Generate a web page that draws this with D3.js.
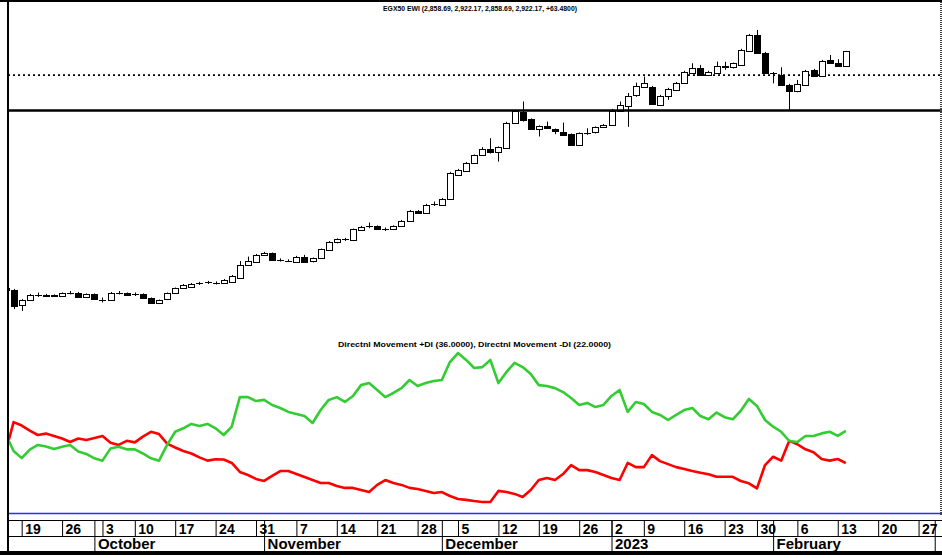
<!DOCTYPE html>
<html>
<head>
<meta charset="utf-8">
<script src="https://cdn.jsdelivr.net/npm/d3@7"></script>
<style>
  body { margin: 0; background: #fff; }
  svg { display: block; font-family: Arial, "Liberation Sans", sans-serif; }
</style>
</head>
<body>
<div class="graph"></div>
<script>
const width = 942;
const height = 558;

// EGX trading calendar (Sun-Thu), first day is only partly visible
const firstDay = new Date(2022, 8, 15);
const lastDay = new Date(2023, 2, 10);
const holidays = ['2022-10-06', '2023-01-01', '2023-01-08', '2023-01-26'];

const open = [1920, 1911, 1847, 1868, 1888, 1885, 1888, 1885, 1898, 1899, 1882, 1894, 1868, 1868, 1898, 1897, 1892, 1894, 1877, 1854,
  1871, 1897, 1918, 1925, 1938, 1943, 1940, 1939, 1946, 1964, 2017, 2031, 2059, 2066, 2038, 2033, 2031, 2052, 2031, 2045,
  2083, 2111, 2124, 2122, 2168, 2180, 2182, 2168, 2170, 2182, 2204, 2245, 2238, 2273, 2270, 2296, 2397, 2416, 2449, 2482,
  2506, 2492, 2515, 2619, 2665, 2633, 2591, 2605, 2591, 2581, 2570, 2524, 2575, 2576, 2599, 2609, 2670, 2689, 2732, 2771,
  2771, 2694, 2732, 2757, 2788, 2828, 2849, 2821, 2830, 2853, 2852, 2863, 2923, 2990, 2915, 2828, 2821, 2778, 2750, 2778,
  2842, 2816, 2884, 2873, 2858.69];
const high = [1924, 1915, 1872, 1894, 1900, 1894, 1892, 1900, 1906, 1902, 1896, 1896, 1879, 1902, 1906, 1900, 1900, 1896, 1879, 1870,
  1900, 1921, 1936, 1940, 1945, 1949, 1947, 1957, 1974, 2033, 2052, 2063, 2072, 2069, 2044, 2040, 2055, 2059, 2048, 2086,
  2118, 2129, 2131, 2171, 2182, 2196, 2184, 2175, 2184, 2207, 2249, 2249, 2275, 2285, 2300, 2410, 2423, 2452, 2484, 2515,
  2553, 2518, 2622, 2673, 2708, 2637, 2607, 2623, 2594, 2619, 2573, 2577, 2595, 2603, 2613, 2677, 2708, 2744, 2788, 2814,
  2774, 2736, 2766, 2791, 2838, 2870, 2863, 2838, 2877, 2876, 2873, 2931, 2994, 3011, 2918, 2833, 2853, 2783, 2799, 2842,
  2846, 2884, 2905, 2887, 2922.17];
const low = [1908, 1830, 1822, 1864, 1881, 1881, 1881, 1881, 1892, 1879, 1879, 1870, 1858, 1864, 1892, 1885, 1885, 1873, 1854, 1851,
  1868, 1894, 1915, 1921, 1932, 1936, 1934, 1936, 1943, 1961, 2012, 2027, 2055, 2033, 2031, 2029, 2027, 2025, 2027, 2042,
  2080, 2108, 2118, 2120, 2165, 2172, 2165, 2160, 2167, 2177, 2201, 2232, 2234, 2266, 2266, 2292, 2393, 2412, 2446, 2478,
  2488, 2454, 2512, 2615, 2623, 2588, 2560, 2592, 2570, 2565, 2522, 2522, 2567, 2573, 2596, 2605, 2664, 2601, 2728, 2768,
  2698, 2690, 2715, 2753, 2785, 2825, 2816, 2816, 2827, 2842, 2848, 2859, 2920, 2909, 2827, 2785, 2774, 2673, 2747, 2774,
  2812, 2812, 2869, 2855, 2858.69];
const close = [1911, 1843, 1868, 1890, 1890, 1888, 1885, 1897, 1899, 1882, 1894, 1874, 1870, 1899, 1899, 1888, 1893, 1877, 1857, 1868,
  1897, 1918, 1932, 1936, 1939, 1944, 1941, 1953, 1970, 2017, 2033, 2059, 2069, 2038, 2037, 2034, 2052, 2031, 2045, 2083,
  2115, 2125, 2125, 2168, 2179, 2182, 2168, 2169, 2182, 2204, 2245, 2235, 2270, 2275, 2296, 2405, 2419, 2449, 2481, 2506,
  2492, 2515, 2619, 2670, 2633, 2591, 2605, 2595, 2581, 2567, 2524, 2574, 2576, 2599, 2609, 2670, 2694, 2732, 2772, 2788,
  2701, 2732, 2760, 2788, 2835, 2849, 2821, 2835, 2859, 2859, 2870, 2926, 2990, 2912, 2830, 2829, 2778, 2754, 2781, 2839,
  2816, 2881, 2873, 2858.69, 2922.17];

const plusDI = [34.6, 27.3, 24.2, 27.9, 29.9, 29.2, 28.1, 29.1, 29.9, 27.1, 26.0, 24.1, 23.1, 28.4, 29.1, 28.0, 28.0, 26.2, 24.1, 23.1,
  29.9, 35.6, 37.1, 39.0, 38.1, 39.0, 37.1, 34.2, 37.8, 50.6, 50.6, 48.9, 49.4, 47.2, 45.9, 44.2, 43.3, 42.4, 39.4, 45.0,
  49.4, 50.6, 48.5, 51.1, 55.8, 56.7, 53.7, 50.6, 52.4, 54.5, 58.0, 55.4, 56.7, 57.6, 58.0, 65.8, 69.7, 66.7, 63.2, 63.6,
  66.7, 56.7, 61.5, 65.4, 63.6, 60.6, 55.8, 55.4, 54.5, 52.8, 50.2, 47.2, 48.1, 46.3, 47.2, 51.1, 53.7, 44.2, 48.5, 47.6,
  44.2, 42.9, 40.7, 42.9, 45.0, 45.9, 42.4, 41.0, 43.9, 41.9, 41.0, 44.7, 49.8, 46.8, 40.7, 37.8, 35.6, 31.6, 31.2, 33.8,
  33.8, 34.9, 35.6, 33.8, 36.0];
const minusDI = [26.8, 39.8, 38.3, 36.1, 34.2, 34.8, 33.8, 32.7, 31.2, 32.7, 32.0, 32.9, 33.8, 30.9, 29.9, 31.7, 31.0, 33.5, 35.6, 34.6,
  30.5, 28.8, 27.3, 26.2, 24.5, 23.1, 23.7, 23.6, 22.1, 18.2, 16.9, 15.2, 14.3, 16.5, 18.6, 18.6, 17.3, 16.0, 14.7, 13.4,
  13.4, 12.1, 11.3, 11.3, 10.4, 9.5, 12.6, 14.7, 13.4, 12.6, 11.3, 10.8, 10.0, 9.1, 9.5, 7.8, 6.5, 6.1, 5.6, 5.2,
  5.2, 10.0, 9.5, 8.7, 7.4, 10.4, 14.7, 15.6, 14.7, 17.3, 21.2, 19.0, 19.0, 18.2, 16.9, 15.6, 14.7, 22.1, 20.3, 20.3,
  25.5, 22.9, 21.6, 20.3, 19.5, 18.6, 17.9, 17.2, 16.1, 16.1, 16.1, 14.3, 13.3, 11.1, 21.2, 24.8, 23.1, 31.7, 30.2, 28.0,
  26.7, 23.8, 23.1, 23.8, 22.0];

// horizontal levels drawn on the price panel
const dottedLevel = 2820;
const solidLevel = 2670;

const iso = d3.timeFormat('%Y-%m-%d');
const dates = d3.timeDay.range(firstDay, lastDay)
  .filter(d => d.getDay() <= 4 && !holidays.includes(iso(d)));

const svg = d3.select('.graph').append('svg')
  .attr('width', width)
  .attr('height', height);

const left = 8, right = 940;

const x = d3.scaleLinear().domain([0, 116]).range([5.52, 942.8]);
const yPrice = d3.scaleLinear().domain([1740, 3125]).range([330.3, 3]);
const yDI = d3.scaleLinear().domain([0, 72]).range([514, 347.7]);

svg.append('clipPath').attr('id', 'plot')
  .append('rect').attr('x', left + 1).attr('y', 0).attr('width', right - left - 1).attr('height', 516);

const fmt = d3.format(',.2f');
const n = close.length - 1;

// titles
svg.append('text')
  .attr('x', 383).attr('y', 10.5)
  .attr('textLength', 194).attr('lengthAdjust', 'spacingAndGlyphs')
  .style('font', 'bold 6.6px Arial, "Liberation Sans", sans-serif')
  .text(`EGX50 EWI (${fmt(open[n])}, ${fmt(high[n])}, ${fmt(low[n])}, ${fmt(close[n])}, +${(close[n] - close[n - 1]).toFixed(4)})`);

svg.append('text')
  .attr('x', 338).attr('y', 347)
  .attr('textLength', 273).attr('lengthAdjust', 'spacingAndGlyphs')
  .style('font', 'bold 7.4px Arial, "Liberation Sans", sans-serif')
  .text(`Directnl Movement +DI (${plusDI[n].toFixed(4)}), Directnl Movement -DI (${minusDI[n].toFixed(4)})`);

const plot = svg.append('g').attr('clip-path', 'url(#plot)');

// level lines
plot.append('line')
  .attr('x1', left).attr('x2', width)
  .attr('y1', yPrice(dottedLevel)).attr('y2', yPrice(dottedLevel))
  .attr('stroke', '#000').attr('stroke-width', 1.6)
  .attr('stroke-dasharray', '2,3');

svg.append('line')
  .attr('x1', left).attr('x2', width)
  .attr('y1', yPrice(solidLevel)).attr('y2', yPrice(solidLevel))
  .attr('stroke', '#000').attr('stroke-width', 2.4);

// candles
const idx = d3.range(close.length);
const cx = i => Math.round(x(i)) + 0.5;

const candles = plot.append('g').selectAll('g')
  .data(idx)
  .join('g');

candles.append('line')
  .attr('x1', cx).attr('x2', cx)
  .attr('y1', i => yPrice(high[i]))
  .attr('y2', i => yPrice(low[i]))
  .attr('stroke', '#000');

candles.append('rect')
  .attr('x', i => cx(i) - 3)
  .attr('width', 6)
  .attr('y', i => Math.round(yPrice(Math.max(open[i], close[i]))) + 0.5)
  .attr('height', i => Math.max(0.01, Math.round(Math.abs(yPrice(open[i]) - yPrice(close[i])))))
  .attr('fill', i => close[i] >= open[i] ? '#fff' : '#000')
  .attr('stroke', '#000');

// directional movement
const line = d3.line()
  .x((d, i) => x(i))
  .y(d => yDI(d));

plot.append('path')
  .datum(minusDI)
  .attr('d', line)
  .attr('fill', 'none')
  .attr('stroke', '#ff0000')
  .attr('stroke-width', 2.6)
  .attr('stroke-linejoin', 'round');

plot.append('path')
  .datum(plusDI)
  .attr('d', line)
  .attr('fill', 'none')
  .attr('stroke', '#33cc33')
  .attr('stroke-width', 2.6)
  .attr('stroke-linejoin', 'round');

// zero line of the DI panel
svg.append('line')
  .attr('x1', left).attr('x2', width)
  .attr('y1', yDI(0) - 0.5).attr('y2', yDI(0) - 0.5)
  .attr('stroke', '#2b2bff').attr('stroke-width', 1.5);

// time axis: weeks on top row, months below (only what fits on the page)
const allIdx = d3.range(dates.length).filter(i => x(i) < width);
const weekIdx = allIdx.filter(i => dates[i].getDay() === 1);
const monthIdx = allIdx.filter(i => i > 0 && dates[i].getMonth() !== dates[i - 1].getMonth());
const monthName = d3.timeFormat('%B');
const fits = i => x(i) < width - 40;

const dayAxis = d3.axisBottom(x)
  .tickValues(weekIdx)
  .tickFormat(i => dates[i].getDate())
  .tickSize(16)
  .tickSizeOuter(0);

const monthAxis = d3.axisBottom(x)
  .tickValues(monthIdx)
  .tickFormat(i => !fits(i) ? '' : dates[i].getMonth() === 0 ? dates[i].getFullYear() : monthName(dates[i]))
  .tickSize(32)
  .tickSizeOuter(0);

const dayG = svg.append('g').attr('transform', 'translate(0,520)').call(dayAxis);
const monthG = svg.append('g').attr('transform', 'translate(0,520)').call(monthAxis);

[dayG, monthG].forEach(g => {
  g.select('.domain').remove();
  g.selectAll('.tick line').attr('stroke', '#000');
  g.selectAll('.tick text')
    .attr('text-anchor', 'start')
    .attr('x', 3)
    .attr('dy', null)
    .attr('fill', '#000');
});
dayG.selectAll('.tick text').attr('y', 13.5)
  .style('font', 'bold 14px Arial, "Liberation Sans", sans-serif');
monthG.selectAll('.tick text').attr('y', 29)
  .style('font', 'bold 15px Arial, "Liberation Sans", sans-serif');

// frame
svg.append('line').attr('x1', left).attr('x2', width).attr('y1', 520.5).attr('y2', 520.5).attr('stroke', '#000');
svg.append('line').attr('x1', left).attr('x2', width).attr('y1', 536.5).attr('y2', 536.5).attr('stroke', '#000');
svg.append('rect').attr('x', 0).attr('y', 551).attr('width', width).attr('height', 4).attr('fill', '#000');
svg.append('rect').attr('x', 0).attr('y', 0).attr('width', width).attr('height', 2).attr('fill', '#000');
svg.append('rect').attr('x', left - 1).attr('y', 0).attr('width', 2).attr('height', 553).attr('fill', '#000');

// right edge ruler
svg.append('line')
  .attr('x1', 941).attr('x2', 941)
  .attr('y1', 2).attr('y2', 516)
  .attr('stroke', '#444').attr('stroke-width', 2)
  .attr('stroke-dasharray', '1,1');
</script>
</body>
</html>
